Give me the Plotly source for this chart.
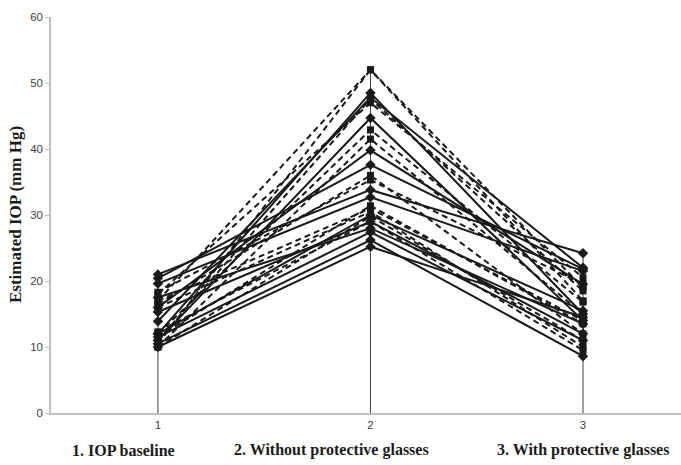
import plotly.graph_objects as go

# Time points
x_points = [1, 2, 3]
x_tick_labels = ["1", "2", "3"]
category_labels = ["1. IOP baseline", "2. Without protective glasses", "3. With protective glasses"]
y_title = "Estimated IOP (mm Hg)"

# Solid series (diamond markers): [baseline, without glasses, with glasses]
solid_series = [
    [12.0, 48.5, 15.0],
    [13.9, 47.8, 22.0],
    [11.0, 44.7, 14.0],
    [16.0, 39.8, 19.5],
    [20.4, 37.6, 21.8],
    [21.0, 33.8, 24.2],
    [19.6, 32.7, 21.5],
    [12.0, 30.0, 15.5],
    [15.3, 29.0, 12.0],
    [11.5, 27.4, 11.0],
    [10.5, 26.2, 8.6],
    [10.0, 25.2, 14.5],
    [17.5, 28.0, 13.5],
]

# Dashed series (square markers)
dashed_series = [
    [17.0, 52.0, 17.0],
    [10.5, 52.0, 19.0],
    [11.0, 47.6, 18.5],
    [18.0, 47.0, 20.5],
    [12.0, 42.9, 16.8],
    [10.0, 41.5, 15.0],
    [16.5, 36.0, 12.0],
    [18.3, 35.3, 19.5],
    [11.5, 31.4, 13.5],
    [16.0, 30.5, 10.0],
    [10.0, 29.8, 11.0],
    [12.3, 29.0, 9.5],
    [17.0, 31.0, 14.0],
]

fig = go.Figure()

# Drop lines from axis to highest point at each time point
all_series = solid_series + dashed_series
drop_x, drop_y = [], []
for i, xp in enumerate(x_points):
    top = max(s[i] for s in all_series)
    drop_x += [xp, xp, None]
    drop_y += [0, top, None]
fig.add_trace(go.Scatter(x=drop_x, y=drop_y, mode="lines",
                         line=dict(color="#404040", width=1),
                         hoverinfo="skip", showlegend=False))

for s in dashed_series:
    fig.add_trace(go.Scatter(x=x_points, y=s, mode="lines+markers",
                             line=dict(color="#1a1a1a", width=2, dash="6px,4px"),
                             marker=dict(symbol="square", size=7, color="#1a1a1a"),
                             showlegend=False))
for s in solid_series:
    fig.add_trace(go.Scatter(x=x_points, y=s, mode="lines+markers",
                             line=dict(color="#1a1a1a", width=2),
                             marker=dict(symbol="diamond", size=8, color="#1a1a1a"),
                             showlegend=False))

for xc, lab in zip([0.84, 1.816, 3.0], category_labels):
    fig.add_annotation(x=xc, xref="x", y=0, yref="paper", yanchor="middle",
                       yshift=-37, text="<b>" + lab + "</b>", showarrow=False,
                       font=dict(family="Liberation Serif", size=16, color="#1a1a1a"))

fig.add_annotation(x=0, xref="paper", xshift=-36, y=0.5, yref="paper",
                   xanchor="center", yanchor="middle", textangle=-90,
                   text="<b>" + y_title + "</b>", showarrow=False,
                   font=dict(family="Liberation Serif", size=17, color="#1a1a1a"))

fig.update_layout(
    width=681, height=465,
    margin=dict(l=51, r=0, t=17, b=52),
    plot_bgcolor="white", paper_bgcolor="white",
    font=dict(family="Liberation Sans", size=11, color="#404040"),
)
fig.update_xaxes(range=[0.497, 3.461], tickvals=x_points, ticktext=x_tick_labels,
                 showgrid=False, zeroline=False, showline=True,
                 linecolor="#bfbfbf", linewidth=1.5, ticks="",
                 tickfont=dict(family="Liberation Sans", size=11.5, color="#404040"))
fig.update_yaxes(range=[0, 60], dtick=10, showgrid=False, zeroline=False,
                 showline=True, linecolor="#bfbfbf", linewidth=1.5,
                 ticks="outside", ticklen=4, tickcolor="#bfbfbf",
                 tickfont=dict(family="Liberation Sans", size=11.5, color="#404040"))

fig.write_html("out.html", config={"displayModeBar": False},
               post_script="document.body.style.margin='0';")
